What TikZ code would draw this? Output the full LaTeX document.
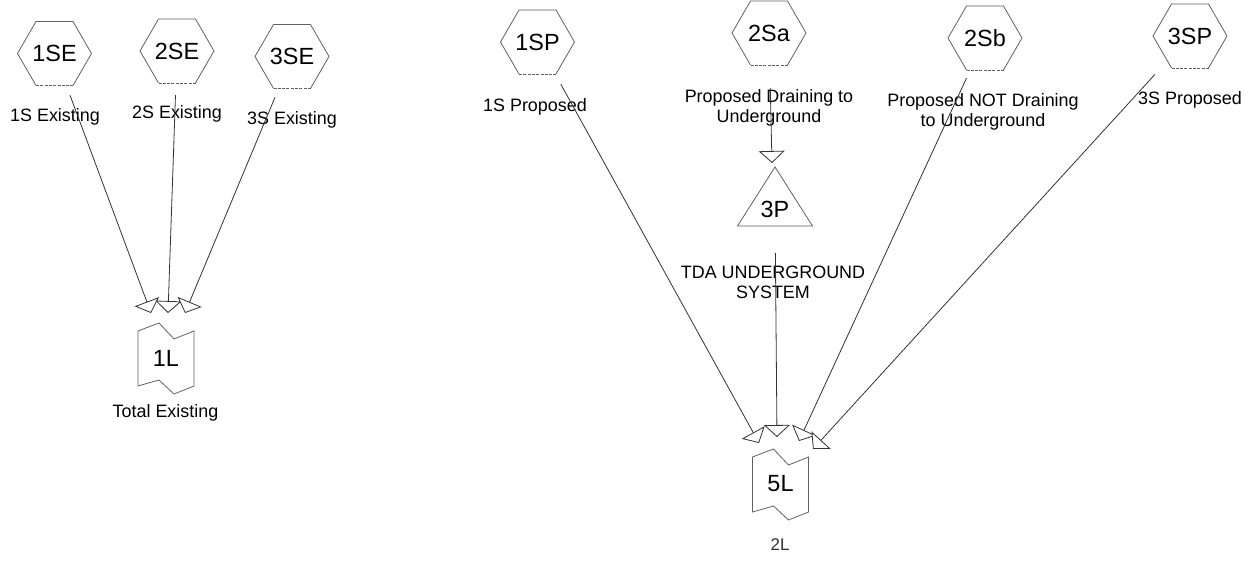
\documentclass[tikz,border=0pt]{standalone}
\usepackage{fontspec}
\setmainfont{Liberation Sans}
\usetikzlibrary{arrows.meta,calc}
\tikzset{
  hexn/.style={circle, minimum size=88bp, inner sep=0pt, font=\fontsize{23.5}{26}\selectfont},
  boxn/.style={circle, minimum size=20bp, inner sep=0pt, font=\fontsize{23.5}{26}\selectfont},
  shp/.style={draw=black!62, line width=0.8bp},
  dsh/.style={draw=black!62, line width=0.8bp, dash pattern=on 3bp off 1.3bp},
  lbl/.style={font=\fontsize{18}{20}\selectfont, align=center, inner sep=0pt},
  flow/.style={draw=black!80, line width=0.8bp, -{Triangle[open, fill=white, length=12bp, width=26bp]}},
}
\newcommand{\hexo}[1]{%
  \draw[shp] ($(#1.center)+(18.5,32)$) -- ($(#1.center)+(37,0)$) -- ($(#1.center)+(18.5,-32)$) -- ($(#1.center)+(-18.5,-32)$) -- ($(#1.center)+(-37,0)$) -- ($(#1.center)+(-18.5,32)$);
  \draw[dsh] ($(#1.center)+(-18.5,32)$) -- ($(#1.center)+(18.5,32)$);
}
\newcommand{\flago}[1]{%
  \draw[shp] ($(#1.center)+(-28,-27)$) -- ($(#1.center)+(-7,-35)$) -- ($(#1.center)+(8,-19)$) -- ($(#1.center)+(28,-27)$) -- ($(#1.center)+(28,28)$) -- ($(#1.center)+(8,36)$) -- ($(#1.center)+(-7,22)$) -- ($(#1.center)+(-28,28)$) -- cycle;
}
\begin{document}
\begin{tikzpicture}[x=1bp, y=-1bp]
\useasboundingbox[fill=white] (0,0) rectangle (1256,561);

% source hexagons
\node[hexn] (n1SE) at (54.5,53.5) {1SE};
\node[hexn] (n2SE) at (177,51) {2SE};
\node[hexn] (n3SE) at (292,56.5) {3SE};
\node[hexn] (n1SP) at (537.5,42) {1SP};
\node[hexn] (n2Sa) at (769,33) {2Sa};
\node[hexn] (n2Sb) at (985,38) {2Sb};
\node[hexn] (n3SP) at (1190,36) {3SP};
\hexo{n1SE}\hexo{n2SE}\hexo{n3SE}\hexo{n1SP}\hexo{n2Sa}\hexo{n2Sb}\hexo{n3SP}

% triangle 3P
\node[circle, minimum size=88bp, inner sep=0pt, font=\fontsize{23.5}{26}\selectfont] (n3P) at (775,209) {3P};
\draw[shp] ($(n3P.center)+(0,-42)$) -- ($(n3P.center)+(37.5,17)$) -- ($(n3P.center)+(-37.5,17)$) -- cycle;

% link boxes
\node[boxn] (n1L) at (166,358) {1L};
\node[boxn] (n5L) at (780.5,484) {5L};
\flago{n1L}\flago{n5L}

% labels
\node[lbl] (l1SE) at (55,117) {1S Existing};
\node[lbl] (l2SE) at (177,114) {2S Existing};
\node[lbl] (l3SE) at (292,120) {3S Existing};
\node[lbl] (l1L) at (165.5,413) {Total Existing};
\node[lbl] (l1SP) at (535,107) {1S Proposed};
\node[lbl] (l2Sa) at (769,108) {Proposed Draining to\\Underground};
\node[lbl] (l3P) at (773,282) {TDA UNDERGROUND\\SYSTEM};
\node[lbl] (l2Sb) at (983,112) {Proposed NOT Draining\\to Underground};
\node[lbl] (l3SP) at (1190,100) {3S Proposed};
\node[lbl, font=\fontsize{17}{19}\selectfont, text=black!80] (l5L) at (780,545) {2L};

% arrow tip points
\coordinate (t1) at (151,313);
\coordinate (t2) at (168,313);
\coordinate (t3) at (185,313);
\coordinate (t4) at (759,443);
\coordinate (t5) at (777,437);
\coordinate (t6) at (799,441);
\coordinate (t7) at (813,449);
\coordinate (t3P) at (772,163);

% connectors
\draw[flow] (n1SE) -- (t1);
\draw[flow] (n2SE) -- (t2);
\draw[flow] (n3SE) -- (t3);
\draw[flow, shorten <=4bp] (n1SP) -- (t4);
\draw[flow, shorten <=11bp] (n2Sa) -- (t3P);
\draw[flow] (n3P) -- (t5);
\draw[flow] (n2Sb) -- (t6);
\draw[flow, shorten <=8bp] (n3SP) -- (t7);
\end{tikzpicture}
\end{document}
